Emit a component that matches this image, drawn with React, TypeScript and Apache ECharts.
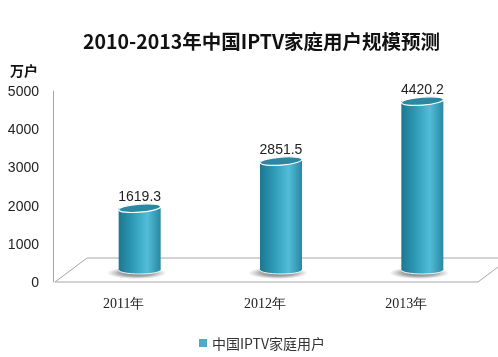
import React, { useEffect, useRef } from "react";
import * as echarts from "echarts";

const categories = ["2011年", "2012年", "2013年"];
const seriesName = "中国IPTV家庭用户";
const values = [1619.3, 2851.5, 4420.2];
const yTicks = { min: 0, max: 5000, interval: 1000 };
const titleText = "2010-2013年中国IPTV家庭用户规模预测";
const unitText = "万户";

const DEPTH_X = 32;
const DEPTH_Y = 24;

export default function App() {
  const ref = useRef<HTMLDivElement>(null);
  useEffect(() => {
    const chart = echarts.init(ref.current!, null, { renderer: "svg" });
    const renderItem = (params: any, api: any) => {
      const idx = params.dataIndex;
      const v = api.value(1);
      const base = api.coord([api.value(0), 0]);
      const top = api.coord([api.value(0), v]);
      const cs = params.coordSys;
      const cx = base[0] + DEPTH_X / 2;
      const by = base[1] - DEPTH_Y / 2;
      const ty = top[1] - DEPTH_Y / 2;
      const hw = 21;
      const ry = 4;
      const children: any[] = [];
      if (idx === 0) {
        const fx0 = cs.x + 2;
        const fx1 = cs.x + cs.width + 1;
        const fy = cs.y + cs.height;
        children.push({
          type: "polygon",
          shape: {
            points: [
              [fx0, fy],
              [fx0 + DEPTH_X, fy - DEPTH_Y],
              [fx1 + DEPTH_X, fy - DEPTH_Y],
              [fx1, fy],
            ],
          },
          style: { fill: "#ffffff", stroke: "#a6a6a6", lineWidth: 1 },
        });
      }
      const bodyGrad = new echarts.graphic.LinearGradient(0, 0, 1, 0, [
        { offset: 0, color: "#1c7790" },
        { offset: 0.35, color: "#2f9cb9" },
        { offset: 0.68, color: "#52bdd8" },
        { offset: 1, color: "#2a88a2" },
      ]);
      children.push({
        type: "ellipse",
        shape: { cx: cx - 3, cy: by + 3, rx: hw + 9, ry: ry + 2 },
        style: {
          fill: new echarts.graphic.RadialGradient(0.5, 0.5, 0.5, [
            { offset: 0, color: "rgba(70,70,70,0.85)" },
            { offset: 0.6, color: "rgba(90,90,90,0.5)" },
            { offset: 1, color: "rgba(120,120,120,0)" },
          ]),
        },
      });
      children.push({
        type: "ellipse",
        shape: { cx, cy: by, rx: hw, ry },
        style: { fill: bodyGrad, stroke: "#e8f6fa", lineWidth: 1 },
      });
      children.push({
        type: "rect",
        shape: { x: cx - hw, y: ty, width: hw * 2, height: by - ty },
        style: { fill: bodyGrad },
      });
      children.push({
        type: "ellipse",
        shape: { cx, cy: ty, rx: hw, ry },
        rotation: 0.08,
        originX: cx,
        originY: ty,
        style: { fill: "#2b88a3", stroke: "#ffffff", lineWidth: 1.2 },
      });
      children.push({
        type: "text",
        style: {
          text: String(v),
          x: cx,
          y: ty - 12,
          align: "center",
          verticalAlign: "middle",
          fontSize: 14,
          fontFamily: "Liberation Sans",
          fill: "#222222",
        },
      });
      return { type: "group", children };
    };
    chart.setOption({
      animation: false,
      title: {
        text: titleText,
        left: 78,
        top: 26,
        textStyle: {
          fontSize: 19.5,
          fontWeight: "bold",
          fontFamily: "Noto Sans CJK SC",
          color: "#111111",
        },
      },
      graphic: [
        {
          type: "text",
          left: 10,
          top: 63,
          style: {
            text: unitText,
            fontSize: 14,
            fontWeight: "bold",
            fontFamily: "Noto Sans CJK SC",
            fill: "#111111",
          },
        },
      ],
      legend: {
        data: [seriesName],
        left: 194,
        top: 331,
        icon: "rect",
        itemWidth: 8,
        itemHeight: 8,
        itemGap: 10,
        textStyle: {
          fontSize: 14,
          fontFamily: "Noto Sans CJK SC",
          color: "#333333",
        },
      },
      grid: { left: 53, right: 21, top: 91, bottom: 75 },
      xAxis: {
        type: "category",
        data: categories,
        axisLine: { show: false },
        axisTick: { show: false },
        axisLabel: {
          fontSize: 14,
          fontFamily: "Liberation Serif",
          color: "#222222",
          margin: 14,
        },
      },
      yAxis: {
        type: "value",
        min: yTicks.min,
        max: yTicks.max,
        interval: yTicks.interval,
        axisLine: { show: true, lineStyle: { color: "#a6a6a6" } },
        axisTick: { show: false },
        splitLine: { show: false },
        axisLabel: {
          fontSize: 14,
          fontFamily: "Liberation Sans",
          color: "#222222",
          margin: 14,
          formatter: (v: number) => String(v),
        },
      },
      series: [
        {
          type: "custom",
          name: seriesName,
          itemStyle: { color: "#4bacc6" },
          renderItem,
          data: values.map((v, i) => [i, v]),
          clip: false,
        },
      ],
    });
    return () => chart.dispose();
  }, []);
  return (
    <div
      ref={ref}
      style={{ position: "fixed", left: 0, top: 0, width: 498, height: 357 }}
    />
  );
}
